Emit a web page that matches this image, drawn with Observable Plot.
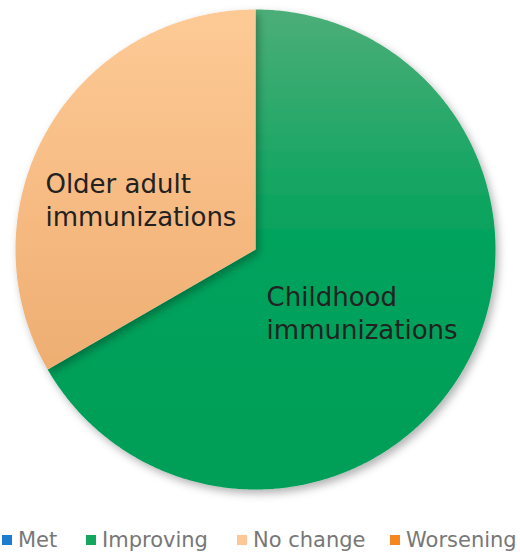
<!DOCTYPE html>
<html>
<head>
<meta charset="utf-8">
<script src="https://cdn.jsdelivr.net/npm/d3@7"></script>
<script src="https://cdn.jsdelivr.net/npm/@observablehq/plot@0.6"></script>
<style>
  html, body { margin: 0; padding: 0; background: #fff; }
  #chart { position: relative; width: 520px; height: 554px; font-family: "DejaVu Sans", sans-serif; }
  .legend { position: absolute; top: 522px; left: 0; width: 520px; height: 32px; }
  .item { position: absolute; top: 6px; display: flex; align-items: center; color: #777; font-size: 21px; white-space: nowrap; }
  .sw { width: 10px; height: 10px; margin-right: 6px; }
</style>
</head>
<body>
<div id="chart"></div>
<script>
const categories = ["Childhood immunizations", "Older adult immunizations"];
const values = [2, 1];
const statuses = ["Improving", "No change"];
const labelLines = [["Childhood", "immunizations"], ["Older adult", "immunizations"]];
const legendLabels = ["Met", "Improving", "No change", "Worsening"];
const legendColors = ["#1b7cd0", "#12a65e", "#fdc896", "#f5861e"];
const gradients = {
  "Improving": ["#4cae78", "#00a25b", "#009e58"],
  "No change": ["#fdca96", "#f7bc84", "#eeae72"]
};

const arcs = d3.pie().sort(null)(values);
const polys = [];
arcs.forEach((a, i) => {
  const st = statuses[i];
  polys.push({slice: i, status: st, x: 0, y: 0});
  const n = Math.max(2, Math.ceil((a.endAngle - a.startAngle) / (Math.PI / 360)));
  for (let k = 0; k <= n; k++) {
    const t = a.startAngle + (a.endAngle - a.startAngle) * k / n;
    polys.push({slice: i, status: st, x: Math.sin(t), y: Math.cos(t)});
  }
  polys.push({slice: i, status: st, x: 0, y: 0});
});

const labelShift = [[-97, 0], [-102, 12]];
const labels = [];
arcs.forEach((a, i) => {
  const mid = (a.startAngle + a.endAngle) / 2;
  const r = 0.52;
  labels.push({text: labelLines[i].join("\n"), x: Math.sin(mid) * r, y: Math.cos(mid) * r, i});
});

const R = 240;
const plot = Plot.plot({
  width: 520,
  height: 520,
  margin: 0,
  x: {domain: [-255 / R, 265 / R], axis: null},
  y: {domain: [-271 / R, 249 / R], axis: null},
  style: {fontFamily: "DejaVu Sans, sans-serif", background: "transparent"},
  marks: [
    () => {
      const defs = d3.create("svg:defs");
      Object.entries(gradients).forEach(([k, cols], j) => {
        const g = defs.append("linearGradient").attr("id", "grad" + j)
          .attr("x1", 0).attr("y1", 0).attr("x2", 0).attr("y2", 1);
        cols.forEach((c, m) => g.append("stop").attr("offset", m / (cols.length - 1)).attr("stop-color", c));
      });
      const f = defs.append("filter").attr("id", "shadow").attr("x", "-10%").attr("y", "-10%").attr("width", "130%").attr("height", "130%");
      f.append("feDropShadow").attr("dx", 3).attr("dy", 4).attr("stdDeviation", 4).attr("flood-color", "#000").attr("flood-opacity", 0.3);
      return defs.node();
    },
    ...statuses.map((st, j) => Plot.line(polys.filter(d => d.status === st), {
      x: "x", y: "y", z: "slice",
      fill: "url(#grad" + j + ")", stroke: "none", curve: "linear"
    })),
    Plot.text(labels, {
      x: "x", y: "y", text: "text",
      textAnchor: "start",
      fontSize: 26, fill: "#222", lineHeight: 1.27
    })
  ]
});

d3.select(plot).selectAll("g[aria-label=text] text").each(function(d, k) {
  const el = d3.select(this);
  const s = labelShift[k];
  el.attr("transform", (el.attr("transform") || "") + ` translate(${s[0]},${s[1]})`);
});
d3.select(plot).selectAll("g[aria-label=line]").attr("filter", "url(#shadow)");

const chart = document.getElementById("chart");
chart.appendChild(plot);

const legend = document.createElement("div");
legend.className = "legend";
const lefts = [2, 86, 237, 390];
legendLabels.forEach((lab, i) => {
  const it = document.createElement("div");
  it.className = "item";
  it.style.left = lefts[i] + "px";
  const sw = document.createElement("span");
  sw.className = "sw";
  sw.style.background = legendColors[i];
  it.appendChild(sw);
  it.appendChild(document.createTextNode(lab));
  legend.appendChild(it);
});
chart.appendChild(legend);
</script>
</body>
</html>
